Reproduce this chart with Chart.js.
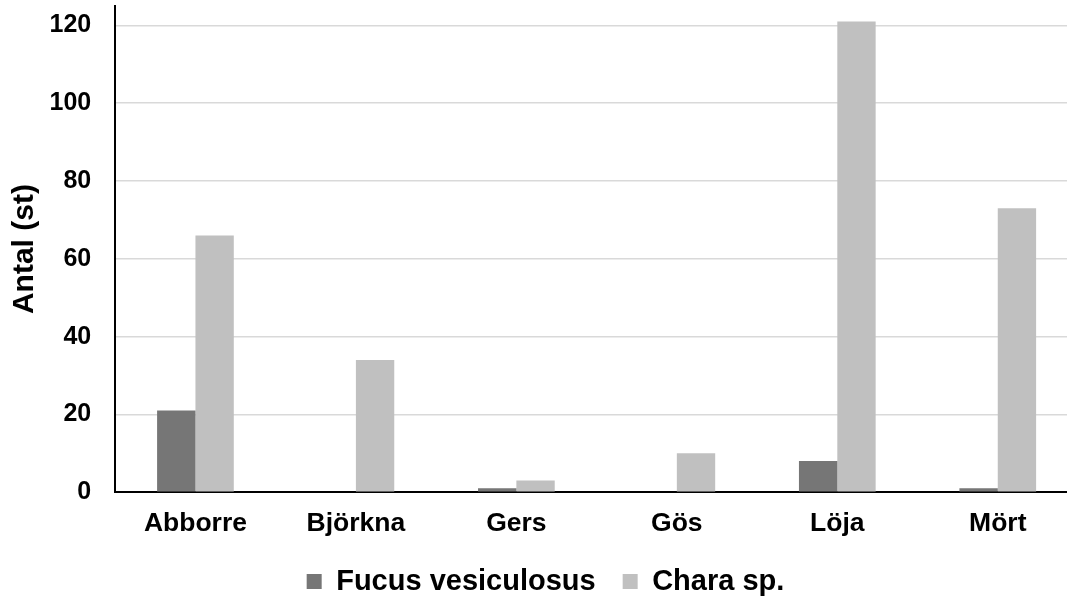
<!DOCTYPE html>
<html>
<head>
<meta charset="utf-8">
<script src="https://cdn.jsdelivr.net/npm/chart.js@4.4.1/dist/chart.umd.min.js"></script>
<style>
  html, body { margin: 0; padding: 0; background: #ffffff; overflow: hidden; }
  #wrap { position: relative; width: 1078px; height: 606px; }
</style>
</head>
<body>
<div id="wrap"><canvas id="chart"></canvas></div>
<script>
// Fish species (x categories)
const categories = ['Abborre', 'Björkna', 'Gers', 'Gös', 'Löja', 'Mört'];
// Counts per species for each algae type
const fucusValues = [21, 0, 1, 0, 8, 1];
const charaValues = [66, 34, 3, 10, 121, 73];
const seriesNames = ['Fucus vesiculosus', 'Chara sp.'];
const yTicks = [0, 20, 40, 60, 80, 100, 120];
const yTitle = 'Antal (st)';

// Nudges the bottom legend sideways so it sits under the main body of the chart
const legendShift = {
  id: 'legendShift',
  afterLayout(chart) {
    const lg = chart.legend;
    if (!lg) return;
    const dx = 6.5;
    lg.left += dx;
    lg.right += dx;
  }
};

Chart.defaults.font.family = '"Liberation Sans", Arial, sans-serif';
Chart.defaults.font.weight = 'bold';
Chart.defaults.color = '#000000';

new Chart(document.getElementById('chart'), {
  type: 'bar',
  data: {
    labels: categories,
    datasets: [
      { label: seriesNames[0], data: fucusValues, backgroundColor: '#767676', borderWidth: 0 },
      { label: seriesNames[1], data: charaValues, backgroundColor: '#c0c0c0', borderWidth: 0 }
    ]
  },
  options: {
    responsive: true,
    maintainAspectRatio: false,
    animation: false,
    layout: { padding: { top: 6, right: 0, bottom: 0, left: 0 } },
    datasets: { bar: { categoryPercentage: 0.478, barPercentage: 1.0 } },
    plugins: {
      legend: {
        position: 'bottom',
        labels: {
          boxWidth: 15,
          boxHeight: 15,
          padding: 27,
          font: { size: 29, weight: 'bold' },
          color: '#000000'
        }
      },
      tooltip: { enabled: false }
    },
    scales: {
      x: {
        grid: {
          display: true,
          drawOnChartArea: false,
          drawTicks: true,
          tickLength: 16,
          color: 'rgba(0,0,0,0)',
          tickColor: 'rgba(0,0,0,0)'
        },
        border: { display: true, color: '#000000', width: 2 },
        ticks: { padding: 0, font: { size: 26.5, weight: 'bold' }, color: '#000000' }
      },
      y: {
        min: 0,
        max: 125,
        afterBuildTicks(scale) {
          scale.ticks = yTicks.map(v => ({ value: v }));
        },
        grid: {
          color: '#d9d9d9',
          lineWidth: 1.5,
          drawTicks: true,
          tickLength: 24,
          tickColor: 'rgba(0,0,0,0)'
        },
        border: { display: true, color: '#000000', width: 2 },
        ticks: { padding: 0, font: { size: 25, weight: 'bold', lineHeight: 0.4 }, color: '#000000' },
        title: {
          display: true,
          text: yTitle,
          font: { size: 30, weight: 'bold' },
          color: '#000000',
          padding: { top: 6.5, bottom: 7 }
        }
      }
    }
  },
  plugins: [legendShift]
});
</script>
</body>
</html>
